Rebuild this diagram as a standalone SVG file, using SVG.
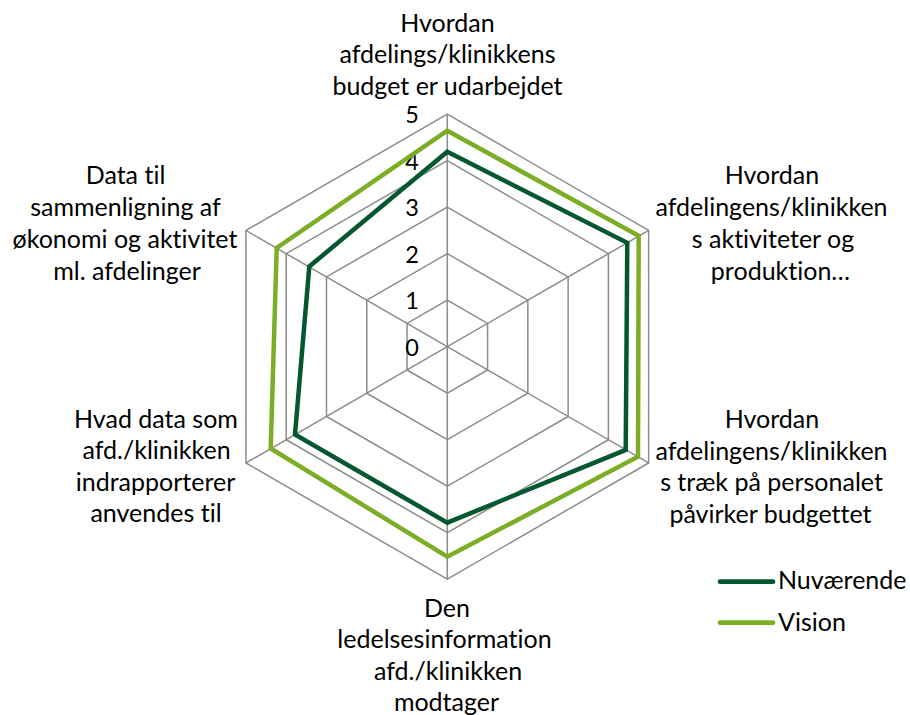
<svg xmlns="http://www.w3.org/2000/svg" width="910" height="715" viewBox="0 0 910 715">
<style>
text{font-family:Lato,"Liberation Sans",sans-serif;fill:#000;font-variant-ligatures:none;font-feature-settings:"liga" 0,"clig" 0,"dlig" 0}
.grid{fill:none;stroke:#8c8c8c;stroke-width:1.5}
.lbl{font-size:25px;text-anchor:middle}
.num{font-size:23.5px;text-anchor:end}
.nuv{fill:none;stroke:#03582f;stroke-width:4.5;stroke-linejoin:miter}
.vis{fill:none;stroke:#7cae25;stroke-width:4.5;stroke-linejoin:miter}
.leg{font-size:25px}
</style>
<rect width="910" height="715" fill="#fff"/>
<g id="grid" transform="translate(447.3,346.7)">
<polygon class="grid" points="0,-46.5 40.27,-23.25 40.27,23.25 0,46.5 -40.27,23.25 -40.27,-23.25"/>
<polygon class="grid" points="0,-93 80.54,-46.5 80.54,46.5 0,93 -80.54,46.5 -80.54,-46.5"/>
<polygon class="grid" points="0,-139.5 120.81,-69.75 120.81,69.75 0,139.5 -120.81,69.75 -120.81,-69.75"/>
<polygon class="grid" points="0,-186 161.08,-93 161.08,93 0,186 -161.08,93 -161.08,-93"/>
<polygon class="grid" points="0,-232.5 201.35,-116.25 201.35,116.25 0,232.5 -201.35,116.25 -201.35,-116.25"/>
<path class="grid" d="M0,0V-232.5M0,0L201.35,-116.25M0,0L201.35,116.25M0,0V232.5M0,0L-201.35,116.25M0,0L-201.35,-116.25"/>
</g>
<g id="axis-numbers">
<text class="num" x="419" y="123">5</text>
<text class="num" x="419" y="169.5">4</text>
<text class="num" x="419" y="216">3</text>
<text class="num" x="419" y="262.5">2</text>
<text class="num" x="419" y="309">1</text>
<text class="num" x="419" y="355.5">0</text>
</g>
<g id="series" transform="translate(447.3,346.7)">
<polygon id="series-nuvaerende" class="nuv" points="0,-195 180,-103.9 178.4,103.2 0,176 -152.3,87.8 -138,-80.2"/>
<polygon id="series-vision" class="vis" points="0,-216 191.4,-110.8 190.7,110 0,210 -176.6,101.8 -170.6,-98.8"/>
</g>
<g id="label-top">
<text class="lbl" x="447.5" y="31.5">Hvordan</text>
<text class="lbl" x="447.5" y="63">afdelings/klinikkens</text>
<text class="lbl" x="447.5" y="94.5">budget er udarbejdet</text>
</g>
<g id="label-upper-right">
<text class="lbl" x="772" y="184">Hvordan</text>
<text class="lbl" x="771.5" y="216">afdelingens/klinikken</text>
<text class="lbl" x="773" y="248">s aktiviteter og</text>
<text class="lbl" x="780.5" y="280">produktion…</text>
</g>
<g id="label-lower-right">
<text class="lbl" x="772" y="428">Hvordan</text>
<text class="lbl" x="771.5" y="459.5">afdelingens/klinikken</text>
<text class="lbl" x="771.5" y="491">s træk på personalet</text>
<text class="lbl" x="770.5" y="522.5">påvirker budgettet</text>
</g>
<g id="label-bottom">
<text class="lbl" x="447" y="616.5">Den</text>
<text class="lbl" x="444.5" y="648">ledelsesinformation</text>
<text class="lbl" x="448" y="679.5">afd./klinikken</text>
<text class="lbl" x="446.5" y="711">modtager</text>
</g>
<g id="label-lower-left">
<text class="lbl" x="156" y="427.5">Hvad data som</text>
<text class="lbl" x="156.5" y="459">afd./klinikken</text>
<text class="lbl" x="155.5" y="490.5">indrapporterer</text>
<text class="lbl" x="156" y="522">anvendes til</text>
</g>
<g id="label-upper-left">
<text class="lbl" x="125.5" y="184">Data til</text>
<text class="lbl" x="125.5" y="216">sammenligning af</text>
<text class="lbl" x="125" y="248">økonomi og aktivitet</text>
<text class="lbl" x="127" y="280">ml. afdelinger</text>
</g>
<g id="legend">
<line x1="720" y1="581.7" x2="773" y2="581.7" stroke="#03582f" stroke-width="4.7" stroke-linecap="round"/>
<text class="leg" x="778" y="589">Nuværende</text>
<line x1="720" y1="622.7" x2="773" y2="622.7" stroke="#7cae25" stroke-width="4.7" stroke-linecap="round"/>
<text class="leg" x="778" y="630.5">Vision</text>
</g>
</svg>
